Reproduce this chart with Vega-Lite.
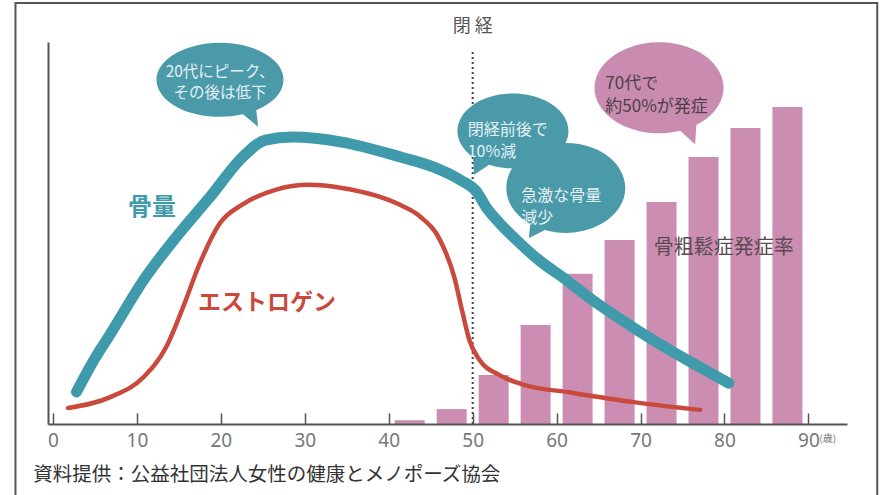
{
  "$schema": "https://vega.github.io/schema/vega-lite/v6.json",
  "width": 799,
  "height": 382,
  "autosize": {"type": "none"},
  "padding": {"left": 48, "top": 42, "right": 44, "bottom": 71},
  "background": "white",
  "config": {"view": {"stroke": null}, "font": "Noto Sans CJK JP"},
  "datasets": {
    "bars": [
      {"age": 42.5, "rate": 1.0},
      {"age": 47.5, "rate": 3.9},
      {"age": 52.5, "rate": 12.8},
      {"age": 57.5, "rate": 25.9},
      {"age": 62.5, "rate": 39.3},
      {"age": 67.5, "rate": 48.2},
      {"age": 72.5, "rate": 58.1},
      {"age": 77.5, "rate": 69.9},
      {"age": 82.5, "rate": 77.5},
      {"age": 87.5, "rate": 83.0}
    ],
    "lines": [
      {"series": "骨量", "age": 2.8, "v": 8.4},
      {"series": "骨量", "age": 4.9, "v": 16.8},
      {"series": "骨量", "age": 6.9, "v": 23.8},
      {"series": "骨量", "age": 10.8, "v": 37.7},
      {"series": "骨量", "age": 14.7, "v": 49.0},
      {"series": "骨量", "age": 18.7, "v": 59.4},
      {"series": "骨量", "age": 22.6, "v": 69.9},
      {"series": "骨量", "age": 25.3, "v": 74.3},
      {"series": "骨量", "age": 28.5, "v": 75.1},
      {"series": "骨量", "age": 34.4, "v": 73.8},
      {"series": "骨量", "age": 41.4, "v": 69.9},
      {"series": "骨量", "age": 45.3, "v": 67.3},
      {"series": "骨量", "age": 48.5, "v": 63.9},
      {"series": "骨量", "age": 50.5, "v": 60.7},
      {"series": "骨量", "age": 51.6, "v": 56.8},
      {"series": "骨量", "age": 53.2, "v": 52.6},
      {"series": "骨量", "age": 55.2, "v": 48.2},
      {"series": "骨量", "age": 57.9, "v": 42.9},
      {"series": "骨量", "age": 61.1, "v": 37.8},
      {"series": "骨量", "age": 63.8, "v": 33.2},
      {"series": "骨量", "age": 69.6, "v": 24.6},
      {"series": "骨量", "age": 75.5, "v": 16.8},
      {"series": "骨量", "age": 80.5, "v": 10.7},
      {"series": "エストロゲン", "age": 1.8, "v": 4.2},
      {"series": "エストロゲン", "age": 6.9, "v": 7.1},
      {"series": "エストロゲン", "age": 10.8, "v": 12.3},
      {"series": "エストロゲン", "age": 13.5, "v": 20.2},
      {"series": "エストロゲン", "age": 15.5, "v": 30.6},
      {"series": "エストロゲン", "age": 17.5, "v": 42.1},
      {"series": "エストロゲン", "age": 19.9, "v": 52.6},
      {"series": "エストロゲン", "age": 22.6, "v": 57.5},
      {"series": "エストロゲン", "age": 26.5, "v": 61.3},
      {"series": "エストロゲン", "age": 30.5, "v": 62.6},
      {"series": "エストロゲン", "age": 34.4, "v": 61.8},
      {"series": "エストロゲン", "age": 41.4, "v": 57.3},
      {"series": "エストロゲン", "age": 43.8, "v": 54.2},
      {"series": "エストロゲン", "age": 46.1, "v": 48.2},
      {"series": "エストロゲン", "age": 47.8, "v": 38.5},
      {"series": "エストロゲン", "age": 48.8, "v": 29.1},
      {"series": "エストロゲン", "age": 49.6, "v": 22.0},
      {"series": "エストロゲン", "age": 50.8, "v": 16.8},
      {"series": "エストロゲン", "age": 53.2, "v": 12.8},
      {"series": "エストロゲン", "age": 55.9, "v": 10.4},
      {"series": "エストロゲン", "age": 61.8, "v": 8.2},
      {"series": "エストロゲン", "age": 69.6, "v": 5.6},
      {"series": "エストロゲン", "age": 77.1, "v": 3.7}
    ]
  },
  "layer": [
    {
      "data": {"values": [{"x1": -4.47, "x2": 98.2, "y1": 110.2, "y2": -20}]},
      "mark": {"type": "rect", "fill": null, "stroke": "#555555", "strokeWidth": 2, "clip": false},
      "encoding": {
        "x": {"field": "x1", "type": "quantitative"},
        "x2": {"field": "x2"},
        "y": {"field": "y1", "type": "quantitative"},
        "y2": {"field": "y2"}
      }
    },
    {
      "data": {"name": "bars"},
      "mark": {"type": "bar", "width": 30, "color": "#cc8db2"},
      "encoding": {
        "x": {
          "field": "age", "type": "quantitative",
          "scale": {"domain": [0, 94], "nice": false, "zero": false},
          "axis": {
            "values": [0, 10, 20, 30, 40, 50, 60, 70, 80, 90],
            "title": null, "grid": false, "zindex": 1,
            "domainColor": "#555555", "domainWidth": 2,
            "tickColor": "#555555", "tickWidth": 1.5, "tickSize": -11,
            "labelColor": "#777777", "labelFontSize": 19, "labelFont": "Noto Sans",
            "labelPadding": 18
          }
        },
        "y": {
          "field": "rate", "type": "quantitative",
          "scale": {"domain": [0, 100], "nice": false},
          "axis": {
            "title": null, "grid": false, "ticks": false, "labels": false, "zindex": 1,
            "domainColor": "#555555", "domainWidth": 2
          }
        }
      }
    },
    {
      "data": {"values": [{"age": 50, "top": 97.9, "bottom": 0}]},
      "mark": {"type": "rule", "color": "#444444", "strokeWidth": 2, "strokeDash": [2, 3]},
      "encoding": {
        "x": {"field": "age", "type": "quantitative"},
        "y": {"field": "bottom", "type": "quantitative"},
        "y2": {"field": "top"}
      }
    },
    {
      "data": {"name": "lines"},
      "transform": [{"filter": "datum.series == '骨量'"}],
      "mark": {"type": "line", "color": "#3f9bab", "strokeWidth": 11, "strokeCap": "round", "strokeJoin": "round", "interpolate": "monotone"},
      "encoding": {
        "x": {"field": "age", "type": "quantitative"},
        "y": {"field": "v", "type": "quantitative"}
      }
    },
    {
      "data": {"name": "lines"},
      "transform": [{"filter": "datum.series == 'エストロゲン'"}],
      "mark": {"type": "line", "color": "#c94a3c", "strokeWidth": 4.5, "strokeCap": "round", "strokeJoin": "round", "interpolate": "monotone"},
      "encoding": {
        "x": {"field": "age", "type": "quantitative"},
        "y": {"field": "v", "type": "quantitative"}
      }
    },
    {
      "data": {"values": [{"age": 19.9, "v": 90.1}]},
      "mark": {"type": "point", "filled": true, "opacity": 1, "color": "#4a9aaa", "size": 16129,
        "shape": "M0.57,0.479L0.6,0.74L0.36,0.544A1,0.583,0,1,1,0.57,0.479Z"},
      "encoding": {"x": {"field": "age", "type": "quantitative"}, "y": {"field": "v", "type": "quantitative"}}
    },
    {
      "data": {"values": [{"age": 54.8, "v": 76.7}]},
      "mark": {"type": "point", "filled": true, "opacity": 1, "color": "#4a9aaa", "size": 12321,
        "shape": "M-0.43,0.61L-0.7,0.79L-0.72,0.469A1,0.676,0,1,1,-0.43,0.61Z"},
      "encoding": {"x": {"field": "age", "type": "quantitative"}, "y": {"field": "v", "type": "quantitative"}}
    },
    {
      "data": {"values": [{"age": 61.1, "v": 61.8}]},
      "mark": {"type": "point", "filled": true, "opacity": 1, "color": "#4a9aaa", "size": 14161,
        "shape": "M-0.35,0.708L-0.62,0.84L-0.6,0.605A1,0.756,0,1,1,-0.35,0.708Z"},
      "encoding": {"x": {"field": "age", "type": "quantitative"}, "y": {"field": "v", "type": "quantitative"}}
    },
    {
      "data": {"values": [{"age": 72.2, "v": 88.0}]},
      "mark": {"type": "point", "filled": true, "opacity": 1, "color": "#c98cb0", "size": 16641,
        "shape": "M0.58,0.574L0.56,0.88L0.33,0.665A1,0.705,0,1,1,0.58,0.574Z"},
      "encoding": {"x": {"field": "age", "type": "quantitative"}, "y": {"field": "v", "type": "quantitative"}}
    },
    {
      "data": {"values": [
        {"age": 19.9, "v": 92.05, "text": "20代にピーク、\nその後は低下"}
      ]},
      "mark": {"type": "text", "color": "#e4f1f3", "fontSize": 15.5, "align": "center", "baseline": "middle", "lineBreak": "\n", "lineHeight": 21},
      "encoding": {"x": {"field": "age", "type": "quantitative"}, "y": {"field": "v", "type": "quantitative"}, "text": {"field": "text"}}
    },
    {
      "data": {"values": [
        {"age": 49.4, "v": 77.05, "text": "閉経前後で\n10%減"},
        {"age": 55.8, "v": 59.8, "text": "急激な骨量\n減少"}
      ]},
      "mark": {"type": "text", "color": "#e4f1f3", "fontSize": 16, "align": "left", "baseline": "middle", "lineBreak": "\n", "lineHeight": 22},
      "encoding": {"x": {"field": "age", "type": "quantitative"}, "y": {"field": "v", "type": "quantitative"}, "text": {"field": "text"}}
    },
    {
      "data": {"values": [
        {"age": 65.8, "v": 88.95, "text": "70代で\n約50%が発症"}
      ]},
      "mark": {"type": "text", "color": "#4e3e46", "fontSize": 17, "align": "left", "baseline": "middle", "lineBreak": "\n", "lineHeight": 23},
      "encoding": {"x": {"field": "age", "type": "quantitative"}, "y": {"field": "v", "type": "quantitative"}, "text": {"field": "text"}}
    },
    {
      "data": {"values": [
        {"age": 11.8, "v": 56.5, "text": "骨量"}
      ]},
      "mark": {"type": "text", "color": "#3f9bab", "fontSize": 24, "fontWeight": "bold", "align": "center", "baseline": "middle"},
      "encoding": {"x": {"field": "age", "type": "quantitative"}, "y": {"field": "v", "type": "quantitative"}, "text": {"field": "text"}}
    },
    {
      "data": {"values": [
        {"age": 25.5, "v": 31.7, "text": "エストロゲン"}
      ]},
      "mark": {"type": "text", "color": "#c94a3c", "fontSize": 23, "fontWeight": "bold", "align": "center", "baseline": "middle"},
      "encoding": {"x": {"field": "age", "type": "quantitative"}, "y": {"field": "v", "type": "quantitative"}, "text": {"field": "text"}}
    },
    {
      "data": {"values": [
        {"age": 79.9, "v": 46.1, "text": "骨粗鬆症発症率"}
      ]},
      "mark": {"type": "text", "color": "#5a4a52", "fontSize": 20, "align": "center", "baseline": "middle"},
      "encoding": {"x": {"field": "age", "type": "quantitative"}, "y": {"field": "v", "type": "quantitative"}, "text": {"field": "text"}}
    },
    {
      "data": {"values": [
        {"age": 50, "v": 103.9, "text": "閉 経"}
      ]},
      "mark": {"type": "text", "color": "#555555", "fontSize": 18, "align": "center", "baseline": "middle"},
      "encoding": {"x": {"field": "age", "type": "quantitative"}, "y": {"field": "v", "type": "quantitative"}, "text": {"field": "text"}}
    },
    {
      "data": {"values": [
        {"age": 91.3, "v": -3.9, "text": "(歳)"}
      ]},
      "mark": {"type": "text", "color": "#777777", "fontSize": 10, "align": "left", "baseline": "middle"},
      "encoding": {"x": {"field": "age", "type": "quantitative"}, "y": {"field": "v", "type": "quantitative"}, "text": {"field": "text"}}
    },
    {
      "data": {"values": [
        {"age": -2.35, "v": -13.4, "text": "資料提供：公益社団法人女性の健康とメノポーズ協会"}
      ]},
      "mark": {"type": "text", "color": "#333333", "fontSize": 19.5, "align": "left", "baseline": "middle"},
      "encoding": {"x": {"field": "age", "type": "quantitative"}, "y": {"field": "v", "type": "quantitative"}, "text": {"field": "text"}}
    }
  ]
}
